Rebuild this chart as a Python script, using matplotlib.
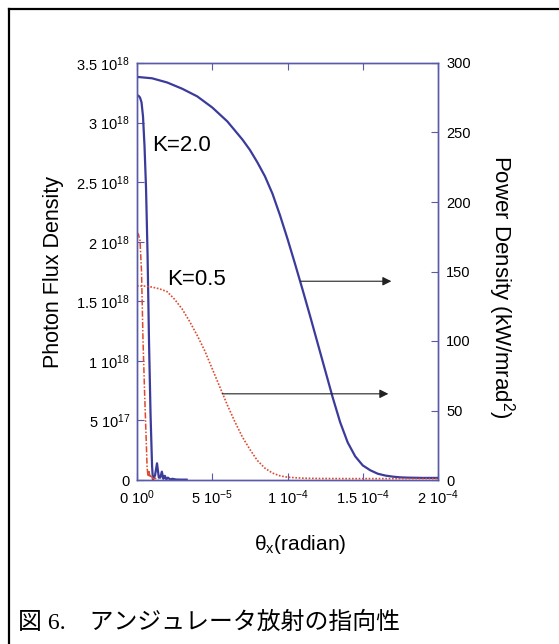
import matplotlib
matplotlib.use("Agg")
import matplotlib.pyplot as plt
from matplotlib.lines import Line2D

plt.rcParams["font.family"] = ["Liberation Sans", "DejaVu Sans"]
plt.rcParams["mathtext.fontset"] = "custom"
plt.rcParams["mathtext.rm"] = "Liberation Sans"
plt.rcParams["mathtext.it"] = "Liberation Sans:italic"

# ── Data ─────────────────────────────────────────────────────────────────────

# photon flux density, K=2.0 (left axis)
flux_k20_theta = [0, 1e-6, 2e-6, 3e-6, 4e-6, 5e-6, 6e-6, 7e-6, 8e-6, 9e-6,
                  1.0e-5, 1.06e-5, 1.2e-5, 1.33e-5, 1.45e-5, 1.55e-5, 1.65e-5, 1.75e-5,
                  1.85e-5, 1.95e-5, 2.05e-5, 2.2e-5, 2.35e-5, 2.6e-5, 3.0e-5, 3.3e-5]
flux_k20 = [3.23e18, 3.225e18, 3.21e18, 3.17e18, 3.05e18, 2.8e18, 2.45e18, 1.9e18, 1.15e18, 0.55e18,
            0.12e18, 0.0, 0.04e18, 0.14e18, 0.02e18, 0.02e18, 0.07e18, 0.01e18,
            0.035e18, 0.005e18, 0.02e18, 0.005e18, 0.01e18, 0.004e18, 0.003e18, 0.003e18]

# photon flux density, K=0.5 (left axis)
flux_k05_theta = [0, 1e-6, 2e-6, 3e-6, 4e-6, 5e-6, 6e-6, 6.7e-6, 7.3e-6, 8e-6,
                  8.7e-6, 9.5e-6, 1.05e-5, 1.2e-5, 1.4e-5]
flux_k05 = [2.08e18, 2.06e18, 2.01e18, 1.75e18, 1.17e18, 0.75e18, 0.38e18, 0.11e18, 0.03e18, 0.07e18,
            0.02e18, 0.04e18, 0.01e18, 0.015e18, 0.0]

# power density, K=2.0 (right axis, kW/mrad^2)
power_k20_theta = [0, 1e-5, 2e-5, 3e-5, 4e-5, 5e-5, 6e-5, 7e-5, 7.5e-5, 8e-5, 8.5e-5,
                   9e-5, 9.5e-5, 1.0e-4, 1.05e-4, 1.1e-4, 1.15e-4, 1.2e-4, 1.25e-4,
                   1.3e-4, 1.35e-4, 1.4e-4, 1.45e-4, 1.5e-4, 1.55e-4, 1.6e-4, 1.65e-4,
                   1.7e-4, 1.75e-4, 1.8e-4, 1.9e-4, 2.0e-4]
power_k20 = [290, 289, 286, 281.5, 276, 268, 258, 245, 237.5, 228.5, 218.5,
             206, 190.5, 173.5, 155.5, 137, 118, 98.5, 79,
             59.5, 41.5, 27, 17, 10.5, 7, 4.5, 3.2,
             2.4, 1.9, 1.7, 1.5, 1.5]

# power density, K=0.5 (right axis)
power_k05_theta = [0, 5e-6, 1e-5, 1.5e-5, 2e-5, 2.5e-5, 3e-5, 3.5e-5, 4e-5, 4.5e-5,
                   5e-5, 5.5e-5, 6e-5, 6.5e-5, 7e-5, 7.5e-5, 8e-5, 8.5e-5, 9e-5, 9.5e-5,
                   1.0e-4, 1.1e-4, 1.2e-4, 1.4e-4, 2.0e-4]
power_k05 = [139.6, 139.5, 138.8, 137.5, 135.5, 130, 123, 114, 104, 93,
             80, 67, 54, 42, 31, 22, 14, 8.5, 5, 3,
             2, 1.3, 1.1, 1.0, 1.0]

x_ticks = [0, 5e-5, 1e-4, 1.5e-4, 2e-4]
x_tick_labels = [r"0 10$^{0}$", r"5 10$^{-5}$", r"1 10$^{-4}$", r"1.5 10$^{-4}$", r"2 10$^{-4}$"]
flux_ticks = [0, 5e17, 1e18, 1.5e18, 2e18, 2.5e18, 3e18, 3.5e18]
flux_tick_labels = ["0", r"5 10$^{17}$", r"1 10$^{18}$", r"1.5 10$^{18}$", r"2 10$^{18}$",
                    r"2.5 10$^{18}$", r"3 10$^{18}$", r"3.5 10$^{18}$"]
power_ticks = [0, 50, 100, 150, 200, 250, 300]

# arrows: (start theta, end theta, power value)
arrow_rows = [(1.087e-4, 1.69e-4, 143.0), (5.67e-5, 1.67e-4, 62.0)]

# ── Figure ───────────────────────────────────────────────────────────────────

W, H = 559, 644
fig = plt.figure(figsize=(W / 100, H / 100), dpi=100)
ax = fig.add_axes([137 / W, 1 - 480 / H, (438 - 137) / W, (480 - 63) / H])
ax2 = ax.twinx()

frame_col = "#5a5aaa"
blue = "#3b3b9c"
red = "#dd4a30"

ax.plot(flux_k20_theta, flux_k20, color=blue, lw=1.6, solid_joinstyle="round")
ax.plot(flux_k05_theta, flux_k05, color=red, lw=1.1, ls=(0, (4, 1.2, 1, 1.2)))
ax2.plot(power_k20_theta, power_k20, color=blue, lw=1.6, solid_joinstyle="round")
ax2.plot(power_k05_theta, power_k05, color=red, lw=1.2, ls=(0, (1, 1)))

ax.set_xlim(0, 2e-4)
ax.set_ylim(0, 3.5e18)
ax2.set_ylim(0, 300)

ax.set_xticks(x_ticks)
ax.set_xticklabels(x_tick_labels)
ax.set_yticks(flux_ticks)
ax.set_yticklabels(flux_tick_labels)
ax2.set_yticks(power_ticks)

ax.tick_params(axis="x", direction="in", top=True, length=5, color=frame_col,
               labelsize=10.5, pad=6)
ax.tick_params(axis="y", direction="in", length=5, color=frame_col, labelsize=10.5, pad=5)
ax2.tick_params(axis="y", direction="in", length=5, color=frame_col, labelsize=10.5, pad=6)
for a in (ax, ax2):
    for s in a.spines.values():
        s.set_color(frame_col)
        s.set_linewidth(1.0)

ax.set_ylabel("Photon Flux Density", fontsize=15.5, labelpad=9)
fig.text(501 / W, 1 - 287 / H, r"Power Density (kW/mrad$^2$)", fontsize=16,
         rotation=270, ha="center", va="center", rotation_mode="anchor")

for x0, x1, yv in arrow_rows:
    ax2.annotate("", xy=(x1, yv), xytext=(x0, yv),
                 arrowprops=dict(arrowstyle="-|>", color="#222222", lw=0.8,
                                 mutation_scale=13, shrinkA=0, shrinkB=0))

ax.text(1.0e-5, 2.81e18, "K=2.0", fontsize=16, va="center", ha="left")
ax.text(2.0e-5, 1.68e18, "K=0.5", fontsize=16, va="center", ha="left")

fig.text(300 / W, 1 - 544 / H, r"θ$_\mathrm{x}$(radian)", fontsize=15, ha="center", va="center")

fig.text(18 / W, 1 - 623 / H, "図 6.　アンジュレータ放射の指向性", fontsize=17.2,
         family=["Liberation Serif", "Noto Sans CJK JP"], ha="left", va="center")

# page frame (top and left edges)
fig.add_artist(Line2D([8.5 / W, 8.5 / W], [0, 1 - 9 / H], color="black", lw=1.6,
                      transform=fig.transFigure))
fig.add_artist(Line2D([8.5 / W, 1], [1 - 9 / H, 1 - 9 / H], color="black", lw=1.6,
                      transform=fig.transFigure))

fig.savefig("out.png", dpi=100)
